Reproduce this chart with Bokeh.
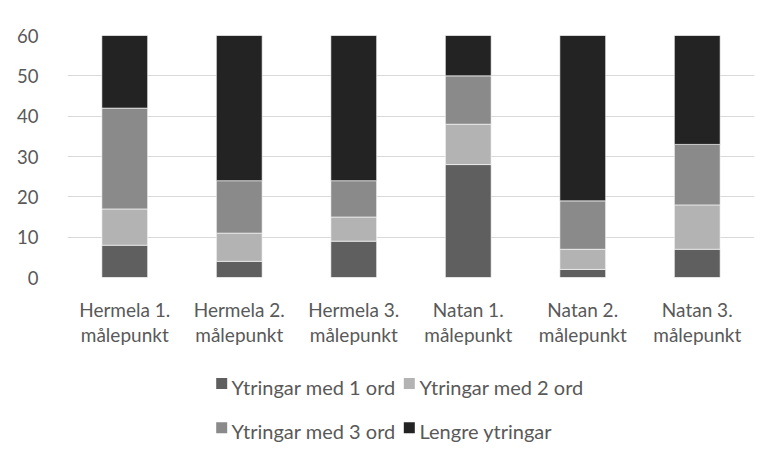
from bokeh.plotting import figure
from bokeh.layouts import column
from bokeh.models import FactorRange, Range1d, FixedTicker
from bokeh.core.properties import value
from bokeh.embed import file_html
from bokeh.resources import INLINE

categories = ["Hermela 1.\nmålepunkt", "Hermela 2.\nmålepunkt", "Hermela 3.\nmålepunkt",
              "Natan 1.\nmålepunkt", "Natan 2.\nmålepunkt", "Natan 3.\nmålepunkt"]
ord1 = [8, 4, 9, 28, 2, 7]
ord2 = [9, 7, 6, 10, 5, 11]
ord3 = [25, 13, 9, 12, 12, 15]
lengre = [18, 36, 36, 10, 41, 27]
series_names = ["Ytringar med 1 ord", "Ytringar med 2 ord", "Ytringar med 3 ord", "Lengre ytringar"]
colors = ["#5f5f5f", "#b3b3b3", "#8a8a8a", "#232323"]
yticks = [0, 10, 20, 30, 40, 50, 60]

FONT = "Lato"
TXT = "#595959"
W = 766
H_MAIN = 352
H_LEG = 102
BL, BR = 67, 12

p = figure(x_range=FactorRange(*categories, range_padding=0), y_range=Range1d(0, 60),
           width=W, height=H_MAIN, output_backend="svg", toolbar_location=None,
           min_border_left=BL, min_border_right=BR, min_border_top=35, min_border_bottom=75)
p.outline_line_color = None

data = dict(x=categories, ord1=ord1, ord2=ord2, ord3=ord3, lengre=lengre)
keys = ["ord1", "ord2", "ord3", "lengre"]
p.vbar_stack(keys, x="x", width=0.4, color=colors, source=data,
             line_color="white", line_width=0.6)

p.xgrid.grid_line_color = None
p.ygrid.grid_line_color = "#d9d9d9"
p.ygrid.grid_line_width = 1
p.yaxis.ticker = FixedTicker(ticks=yticks)

for ax in (p.xaxis[0], p.yaxis[0]):
    ax.axis_line_color = None
    ax.major_tick_line_color = None
    ax.minor_tick_line_color = None
    ax.major_label_text_font = FONT
    ax.major_label_text_color = TXT
p.yaxis.major_label_text_font_size = "18.5px"
p.xaxis.major_label_text_font_size = "19px"
p.yaxis.major_label_standoff = 23
p.xaxis.major_label_standoff = 14
p.xaxis.major_label_text_line_height = 1.1

# legend panel: its frame is aligned with the main frame, so x is in page pixels
leg = figure(x_range=Range1d(BL, W - BR), y_range=Range1d(H_LEG, 0), width=W, height=H_LEG,
             output_backend="svg", toolbar_location=None,
             x_axis_location=None, y_axis_location=None,
             min_border_left=BL, min_border_right=BR, min_border_top=0, min_border_bottom=0)
leg.grid.visible = False
leg.outline_line_color = None

col_sq = [221.2, 408.8]
col_tx = [231.0, 419.0]
row_sq = [31.0, 75.2]
row_base = [34.0, 78.0]
sq_x = [col_sq[i % 2] for i in range(4)]
sq_y = [row_sq[i // 2] for i in range(4)]
tx_x = [col_tx[i % 2] for i in range(4)]
tx_y = [row_base[i // 2] for i in range(4)]
leg.rect(x=sq_x, y=sq_y, width=11, height=11, width_units="screen", height_units="screen",
         fill_color=colors, line_color=None)
leg.text(x=tx_x, y=tx_y, text=series_names, text_font=value(FONT), text_font_size="20px",
         text_color=TXT, text_baseline="alphabetic", text_align="left")

layout = column(p, leg, spacing=0)
open("out.html", "w").write(file_html(layout, INLINE))
